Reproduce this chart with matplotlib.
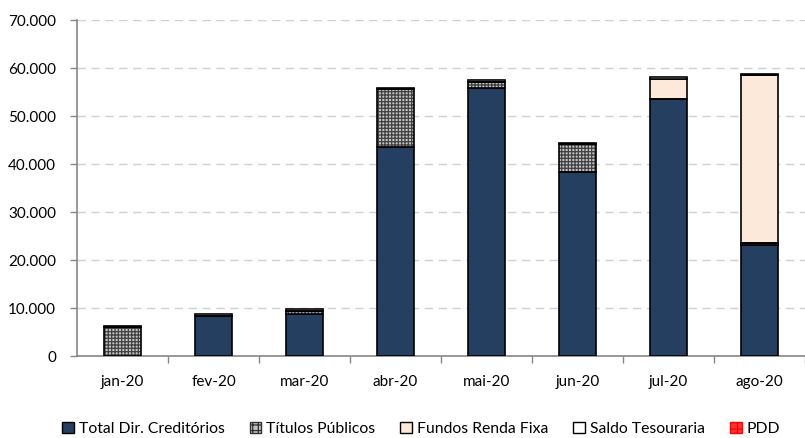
import numpy as np
import matplotlib.pyplot as plt
from matplotlib.patches import Patch
from matplotlib.ticker import FuncFormatter

plt.rcParams['font.family'] = ['Lato', 'DejaVu Sans']
plt.rcParams['hatch.linewidth'] = 0.9

# data (R$ mil)
meses = ['jan-20', 'fev-20', 'mar-20', 'abr-20', 'mai-20', 'jun-20', 'jul-20', 'ago-20']
dir_creditorios = [0, 8300, 8700, 43600, 55900, 38400, 53500, 23100]
titulos_publicos = [6000, 0, 700, 12000, 1100, 5700, 0, 500]
fundos_renda_fixa = [0, 0, 0, 0, 0, 0, 4300, 34900]
saldo_tesouraria = [300, 400, 300, 300, 400, 200, 300, 300]
pdd = [0, 0, 0, 0, 0, 0, 0, 0]

navy = '#243f60'
peach = '#fde9d9'
hatch_bg = '#c4c4c4'
hatch_fg = '#404040'

fig = plt.figure(figsize=(8.05, 4.38), dpi=100)
ax = fig.add_axes([77 / 805, 1 - 356 / 438, (805 - 77) / 805, (356 - 20) / 438])

x = np.arange(len(meses))
w = 0.4
bottom = np.zeros(len(meses))

ax.bar(x, dir_creditorios, w, bottom=bottom, color=navy, edgecolor='black', linewidth=1.2, zorder=3)
bottom += dir_creditorios

# patterned series: hatch layer then outline layer
ax.bar(x, titulos_publicos, w, bottom=bottom, color=hatch_bg, edgecolor=hatch_fg,
       hatch='+++++', linewidth=0, zorder=3)
ax.bar(x, titulos_publicos, w, bottom=bottom, fill=False, edgecolor='black', linewidth=1.2, zorder=4)
bottom += titulos_publicos

ax.bar(x, fundos_renda_fixa, w, bottom=bottom, color=peach, edgecolor='black', linewidth=1.2, zorder=3)
bottom += fundos_renda_fixa

ax.bar(x, saldo_tesouraria, w, bottom=bottom, color='white', edgecolor='black', linewidth=1.2, zorder=3)
bottom += saldo_tesouraria

ax.bar(x, pdd, w, bottom=bottom, color='#ff4444', edgecolor='red', linewidth=0, zorder=3)

ax.set_ylim(0, 70000)
ax.set_yticks(np.arange(0, 70001, 10000))
ax.yaxis.set_major_formatter(FuncFormatter(lambda v, p: f'{int(v):,}'.replace(',', '.')))
ax.set_xlim(-0.5, -0.5 + 8 * (805 - 77) / 736)

ax.set_xticks(x)
ax.set_xticklabels(meses)
ax.set_xticks(np.arange(0.5, 8, 1), minor=True)
ax.tick_params(axis='x', which='major', length=0, pad=14)
ax.tick_params(axis='x', which='minor', length=5, color='#868686', width=1)
ax.tick_params(axis='y', length=5, color='#868686', width=1, pad=10)
ax.tick_params(labelsize=11, labelcolor='black')

ax.grid(axis='y', color='#d0d0d0', linestyle=(0, (6, 4)), linewidth=1, zorder=0)
for s in ['top', 'right']:
    ax.spines[s].set_visible(False)
for s in ['left', 'bottom']:
    ax.spines[s].set_color('#868686')
    ax.spines[s].set_linewidth(1.2)

handles = [
    Patch(facecolor=navy, edgecolor='black', label='Total Dir. Creditórios'),
    Patch(facecolor=hatch_bg, edgecolor='#303030', hatch='+++', label='Títulos Públicos'),
    Patch(facecolor=peach, edgecolor='black', label='Fundos Renda Fixa'),
    Patch(facecolor='white', edgecolor='black', label='Saldo Tesouraria'),
    Patch(facecolor='#ff3333', edgecolor='red', hatch='++', label='PDD'),
]
fig.legend(handles=handles, loc='center', bbox_to_anchor=(421 / 805, 1 - 429 / 438), ncol=5,
           frameon=False, fontsize=11.3, handlelength=0.75, handleheight=0.75,
           handletextpad=0.3, columnspacing=1.6)

fig.savefig('out.png', dpi=100)
